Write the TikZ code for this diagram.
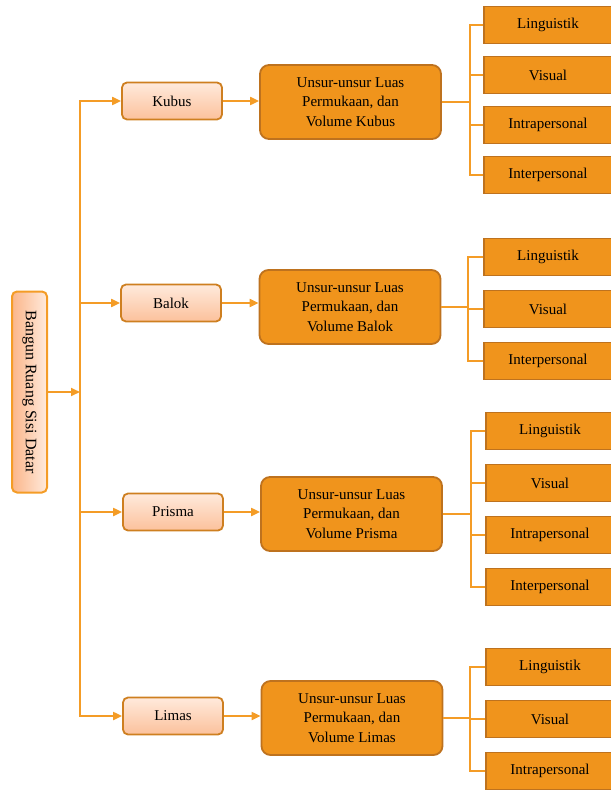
\documentclass[tikz,border=0pt]{standalone}
\usepackage{fontspec}
\setmainfont{Liberation Serif}
\usetikzlibrary{arrows.meta}

\definecolor{linkor}{RGB}{244,156,38}
\definecolor{boxor}{RGB}{240,148,28}
\definecolor{boxedge}{RGB}{190,114,30}
\definecolor{peach}{RGB}{251,182,138}
\definecolor{peachlt}{RGB}{255,234,220}

\tikzset{
  link/.style={draw=linkor, line width=2pt, -{Triangle[length=9pt,width=8pt]}},
  bracketline/.style={draw=linkor, line width=1.8pt},
  txt/.style={font=\fontsize{15pt}{19.5pt}\selectfont},
  rootbox/.style={draw=linkor, line width=2pt, rounded corners=5pt,
    left color=peach, right color=peachlt, minimum width=35pt, minimum height=201pt, inner sep=0pt,
    font=\fontsize{16pt}{19pt}\selectfont},
  topic/.style={txt, draw=boxedge!70!linkor, line width=1.8pt, rounded corners=5pt,
    top color=peachlt, bottom color=peach!85, minimum width=100pt, minimum height=37pt},
  unsur/.style={txt, draw=boxedge, line width=1.8pt, rounded corners=9pt, fill=boxor,
    minimum width=181pt, minimum height=74pt, align=center},
  leaf/.style={txt, draw=boxedge, line width=1.8pt, fill=boxor, minimum width=128pt, minimum height=37pt},
}

\begin{document}
\begin{tikzpicture}[x=1pt, y=-1pt]
\useasboundingbox (0,0) rectangle (610,791);

% root and trunk
\node[rootbox] (root) at (29.5,392) {\rotatebox{-90}{Bangun Ruang Sisi Datar}};
\coordinate (trunk) at (80,392);
\draw[link] (root) -- (trunk);

% shapes
\node[topic] (kubus) at (172,101) {Kubus};
\node[topic] (balok) at (171,303) {Balok};
\node[topic] (prisma) at (173,512) {Prisma};
\node[topic] (limas) at (173,716) {Limas};

\foreach \s in {kubus,balok,prisma,limas}
  \draw[link] (trunk) |- (\s);

% unsur boxes
\node[unsur] (ukubus) at (350.5,102) {Unsur-unsur Luas\\Permukaan, dan\\Volume Kubus};
\node[unsur] (ubalok) at (350,307) {Unsur-unsur Luas\\Permukaan, dan\\Volume Balok};
\node[unsur] (uprisma) at (351.5,514) {Unsur-unsur Luas\\Permukaan, dan\\Volume Prisma};
\node[unsur] (ulimas) at (352,718) {Unsur-unsur Luas\\Permukaan, dan\\Volume Limas};

\draw[link] (kubus) -- (kubus -| ukubus.west);
\draw[link] (balok) -- (balok -| ubalok.west);
\draw[link] (prisma) -- (prisma -| uprisma.west);
\draw[link] (limas) -- (limas -| ulimas.west);

% brackets
\coordinate (brkubus) at (470,102);
\coordinate (brbalok) at (468,307);
\coordinate (brprisma) at (471,514);
\coordinate (brlimas) at (470,718);

\draw[bracketline] (ukubus) -- (brkubus);
\draw[bracketline] (ubalok) -- (brbalok);
\draw[bracketline] (uprisma) -- (brprisma);
\draw[bracketline] (ulimas) -- (brlimas);

% kecerdasan
\foreach \lbl [count=\i] in {Linguistik,Visual,Intrapersonal,Interpersonal}{
  \node[leaf] (lkubus\i) at (548,{25+50*(\i-1)}) {\lbl};
  \draw[bracketline] (brkubus) |- (lkubus\i);
}
\foreach \lbl [count=\i] in {Linguistik,Visual,Interpersonal}{
  \node[leaf] (lbalok\i) at (548,{257+52*(\i-1)}) {\lbl};
  \draw[bracketline] (brbalok) |- (lbalok\i);
}
\foreach \lbl [count=\i] in {Linguistik,Visual,Intrapersonal,Interpersonal}{
  \node[leaf] (lprisma\i) at (550,{431+52*(\i-1)}) {\lbl};
  \draw[bracketline] (brprisma) |- (lprisma\i);
}
\foreach \lbl [count=\i] in {Linguistik,Visual,Intrapersonal}{
  \node[leaf] (llimas\i) at (550,{667+52*(\i-1)}) {\lbl};
  \draw[bracketline] (brlimas) |- (llimas\i);
}
\end{tikzpicture}
\end{document}
